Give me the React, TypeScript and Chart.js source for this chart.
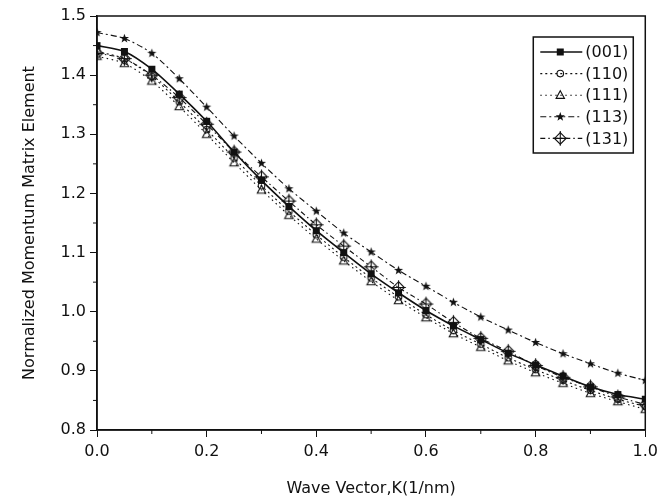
import React, { useEffect, useRef } from 'react';
import { Chart, registerables } from 'chart.js';

Chart.register(...registerables);

const kValues = [0, 0.05, 0.1, 0.15, 0.2, 0.25, 0.3, 0.35, 0.4, 0.45, 0.5, 0.55, 0.6, 0.65, 0.7, 0.75, 0.8, 0.85, 0.9, 0.95, 1.0];

const series001 = [1.450, 1.440, 1.410, 1.368, 1.322, 1.270, 1.222, 1.178, 1.137, 1.100, 1.064, 1.032, 1.002, 0.976, 0.953, 0.930, 0.910, 0.891, 0.873, 0.860, 0.852];
const series110 = [1.440, 1.428, 1.398, 1.355, 1.308, 1.260, 1.213, 1.170, 1.130, 1.092, 1.057, 1.025, 0.995, 0.968, 0.945, 0.922, 0.902, 0.884, 0.867, 0.852, 0.840];
const series111 = [1.432, 1.420, 1.390, 1.347, 1.300, 1.252, 1.206, 1.163, 1.123, 1.086, 1.051, 1.019, 0.990, 0.963, 0.940, 0.917, 0.897, 0.879, 0.862, 0.848, 0.835];
const series113 = [1.472, 1.462, 1.437, 1.394, 1.346, 1.297, 1.251, 1.208, 1.170, 1.133, 1.101, 1.070, 1.043, 1.016, 0.991, 0.969, 0.948, 0.929, 0.912, 0.896, 0.884];
const series131 = [1.437, 1.428, 1.400, 1.362, 1.317, 1.270, 1.228, 1.187, 1.147, 1.111, 1.076, 1.041, 1.013, 0.982, 0.955, 0.933, 0.909, 0.889, 0.873, 0.856, 0.843];

const seriesLabels = ['(001)', '(110)', '(111)', '(113)', '(131)'];
const seriesMarkers = ['square', 'circle', 'triangle', 'star', 'diamondCross'];
const seriesDashes: number[][] = [[], [2, 3], [1.5, 3.5], [6, 3, 2, 3], [5, 3, 1.5, 3]];

const xMin = 0, xMax = 1.0, xStep = 0.2;
const yMin = 0.8, yMax = 1.5, yStep = 0.1;
const xMinorTicks = [0.1, 0.3, 0.5, 0.7, 0.9];
const yMinorTicks = [0.85, 0.95, 1.05, 1.15, 1.25, 1.35, 1.45];

const xTitle = 'Wave Vector,K(1/nm)';
const yTitle = 'Normalized Momentum Matrix Element';

const FONT = "'DejaVu Sans', 'Liberation Sans', Arial, sans-serif";
const INK = '#111';

function drawMarker(g: CanvasRenderingContext2D, kind: string, x: number, y: number) {
  g.save();
  g.setLineDash([]);
  g.strokeStyle = INK;
  g.fillStyle = INK;
  g.lineWidth = 1.1;
  if (kind === 'square') {
    g.fillRect(x - 3.5, y - 3.5, 7, 7);
  } else if (kind === 'circle') {
    g.beginPath();
    g.arc(x, y, 3.3, 0, Math.PI * 2);
    g.stroke();
  } else if (kind === 'triangle') {
    g.beginPath();
    g.moveTo(x, y - 4.5);
    g.lineTo(x + 4.2, y + 3.2);
    g.lineTo(x - 4.2, y + 3.2);
    g.closePath();
    g.stroke();
  } else if (kind === 'star') {
    g.beginPath();
    for (let i = 0; i < 10; i++) {
      const r = i % 2 === 0 ? 4.8 : 2.0;
      const a = -Math.PI / 2 + (i * Math.PI) / 5;
      const px = x + r * Math.cos(a);
      const py = y + r * Math.sin(a);
      if (i === 0) g.moveTo(px, py); else g.lineTo(px, py);
    }
    g.closePath();
    g.fill();
  } else if (kind === 'diamondCross') {
    const r = 5.8;
    g.beginPath();
    g.moveTo(x, y - r);
    g.lineTo(x + r, y);
    g.lineTo(x, y + r);
    g.lineTo(x - r, y);
    g.closePath();
    g.stroke();
    g.beginPath();
    g.moveTo(x, y - r - 1.5);
    g.lineTo(x, y + r + 1.5);
    g.moveTo(x - r - 1.5, y);
    g.lineTo(x + r + 1.5, y);
    g.stroke();
  }
  g.restore();
}

function makeMarker(kind: string): HTMLCanvasElement {
  const size = 17;
  const c = document.createElement('canvas');
  c.width = size;
  c.height = size;
  const g = c.getContext('2d')!;
  drawMarker(g, kind, size / 2, size / 2);
  return c;
}

const framePlugin = {
  id: 'frameAndLegend',
  afterDatasetsDraw(chart: any) {
    const { ctx, chartArea: a, scales } = chart;
    ctx.save();
    ctx.setLineDash([]);
    ctx.strokeStyle = INK;
    ctx.lineWidth = 1.5;
    ctx.strokeRect(a.left, a.top, a.right - a.left, a.bottom - a.top);

    ctx.lineWidth = 1;
    for (const v of xMinorTicks) {
      const px = scales.x.getPixelForValue(v);
      ctx.beginPath();
      ctx.moveTo(px, a.bottom);
      ctx.lineTo(px, a.bottom + 4);
      ctx.stroke();
    }
    for (const v of yMinorTicks) {
      const py = scales.y.getPixelForValue(v);
      ctx.beginPath();
      ctx.moveTo(a.left, py);
      ctx.lineTo(a.left - 4, py);
      ctx.stroke();
    }

    // legend box
    const lx = a.right - 112;
    const ly = a.top + 21;
    const lw = 100;
    const lh = 116;
    ctx.fillStyle = '#fff';
    ctx.fillRect(lx, ly, lw, lh);
    ctx.lineWidth = 1.5;
    ctx.strokeRect(lx, ly, lw, lh);
    ctx.font = `16px ${FONT}`;
    ctx.textBaseline = 'middle';
    ctx.textAlign = 'left';
    seriesLabels.forEach((label, i) => {
      const cy = ly + 15 + i * 21.6;
      ctx.save();
      ctx.strokeStyle = INK;
      ctx.lineWidth = i === 0 ? 1.5 : 1.1;
      ctx.setLineDash(seriesDashes[i]);
      ctx.beginPath();
      ctx.moveTo(lx + 7, cy);
      ctx.lineTo(lx + 49, cy);
      ctx.stroke();
      ctx.restore();
      drawMarker(ctx, seriesMarkers[i], lx + 27, cy);
      ctx.fillStyle = INK;
      ctx.fillText(label, lx + 52, cy + 1);
    });
    ctx.restore();
  },
};

export default function App() {
  const ref = useRef<HTMLCanvasElement | null>(null);

  useEffect(() => {
    if (!ref.current) return;
    const allSeries = [series001, series110, series111, series113, series131];
    const datasets = allSeries.map((s, i) => ({
      label: seriesLabels[i],
      data: s.map((v, j) => ({ x: kValues[j], y: v })),
      borderColor: INK,
      backgroundColor: INK,
      borderWidth: i === 0 ? 1.6 : 1.1,
      borderDash: seriesDashes[i],
      pointStyle: makeMarker(seriesMarkers[i]) as any,
      pointRadius: 4,
      tension: 0.25,
      fill: false,
    }));

    const chart = new Chart(ref.current, {
      type: 'line',
      data: { datasets },
      plugins: [framePlugin],
      options: {
        animation: false,
        responsive: false,
        maintainAspectRatio: false,
        layout: { padding: { top: 16, right: 15, left: 0, bottom: 0 } },
        plugins: {
          legend: { display: false },
          tooltip: { enabled: false },
        },
        scales: {
          x: {
            type: 'linear',
            min: xMin,
            max: xMax,
            border: { display: true, color: INK, width: 1.5 },
            grid: { display: true, drawOnChartArea: false, drawTicks: true, tickLength: 7, color: INK, tickColor: INK },
            ticks: {
              stepSize: xStep,
              color: INK,
              font: { family: FONT, size: 16 },
              padding: 5,
              maxRotation: 0,
              callback: (v: any) => Number(v).toFixed(1),
            },
            title: {
              display: true,
              text: xTitle,
              color: INK,
              font: { family: FONT, size: 16 },
              padding: { top: 4, bottom: 6 },
            },
            afterFit: (scale: any) => { scale.height = 74; },
          },
          y: {
            type: 'linear',
            min: yMin,
            max: yMax,
            border: { display: true, color: INK, width: 1.5 },
            grid: { display: true, drawOnChartArea: false, drawTicks: true, tickLength: 7, color: INK, tickColor: INK },
            ticks: {
              stepSize: yStep,
              color: INK,
              font: { family: FONT, size: 16 },
              padding: 4,
              callback: (v: any) => Number(v).toFixed(1),
            },
            title: {
              display: true,
              text: yTitle,
              color: INK,
              font: { family: FONT, size: 16 },
              padding: { top: 20, bottom: 0 },
            },
            afterFit: (scale: any) => { scale.width = 97; },
          },
        },
      },
    });
    return () => chart.destroy();
  }, []);

  return (
    <div style={{ position: 'fixed', left: 0, top: 0, width: 663, height: 504, background: '#fff' }}>
      <canvas ref={ref} width={663} height={504} style={{ width: 663, height: 504, display: 'block' }} />
    </div>
  );
}
